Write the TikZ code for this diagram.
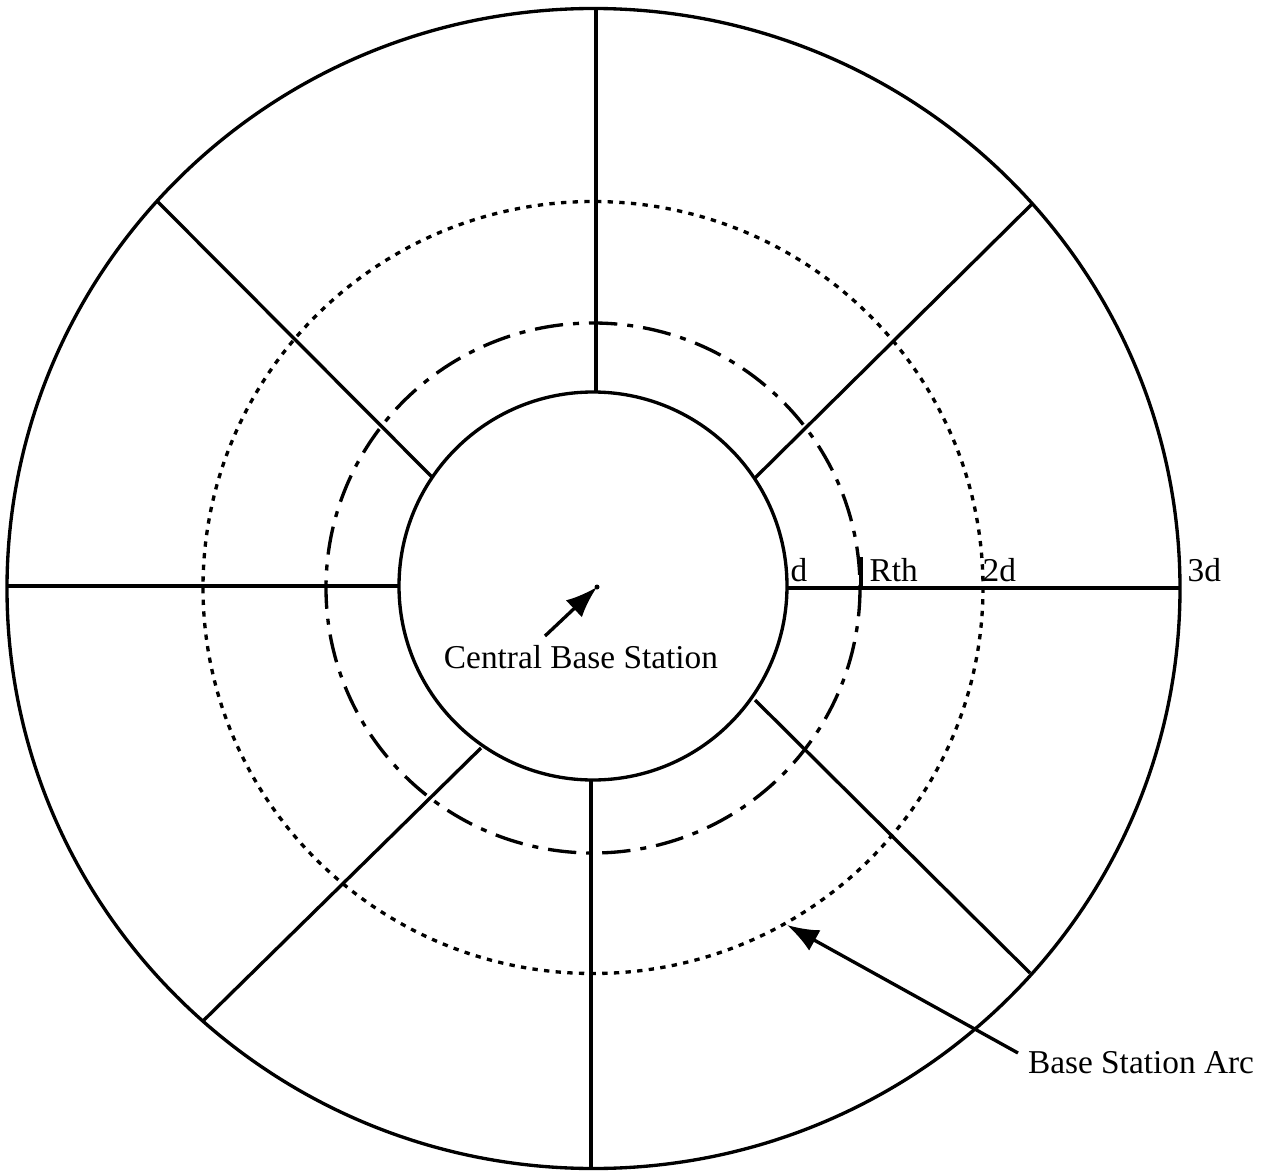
\documentclass[tikz,border=0pt]{standalone}
\usepackage{fontspec}
\setmainfont{Liberation Serif}
\usetikzlibrary{arrows.meta}
\begin{document}
\begin{tikzpicture}[x=0.3pt,y=-0.3pt,
  solidline/.style={line width=1pt},
  dottedring/.style={line width=1pt, dash pattern=on 1.6pt off 1.9pt},
  dashdotring/.style={line width=1pt, dash pattern=on 8.5pt off 3pt on 1.8pt off 3pt},
  pointer/.style={line width=1pt, -{Latex[length=9.5pt,width=7pt]}},
  lbl/.style={inner sep=0pt, font=\fontsize{10pt}{12pt}\selectfont}]
\useasboundingbox (0,0) rectangle (1271,1171);
% rings
\draw[solidline] (593.5,588.5) ellipse [x radius=586.5, y radius=580];
\draw[dottedring] (593,587.5) ellipse [x radius=390, y radius=386];
\draw[dashdotring] (593,588) ellipse [x radius=267, y radius=265];
\draw[solidline] (593,586) circle [radius=194];
% radial lines
\coordinate (ti) at (596,392);  \coordinate (to) at (596,9);
\coordinate (bi) at (591,780);  \coordinate (bo) at (591,1168);
\coordinate (li) at (399,586);  \coordinate (lo) at (7,586);
\coordinate (ri) at (787,588);  \coordinate (ro) at (1180,588);
\coordinate (uri) at (755,478); \coordinate (uro) at (1033,203);
\coordinate (uli) at (433,478); \coordinate (ulo) at (158,202);
\coordinate (lli) at (481,748); \coordinate (llo) at (202,1022);
\coordinate (lri) at (755,700); \coordinate (lro) at (1030,973);
\foreach \a/\b in {ti/to,bi/bo,li/lo,ri/ro,uri/uro,uli/ulo,lli/llo,lri/lro}
  \draw[solidline] (\a) -- (\b);
% Rth tick
\coordinate (rtht) at (861,557); \coordinate (rthb) at (861,590);
\draw[solidline] (rtht) -- (rthb);
% distance labels
\node[lbl, anchor=base west] (ld) at (790,581) {d};
\node[lbl, anchor=base west] (lrth) at (869,581) {Rth};
\node[lbl, anchor=base west] (l2d) at (982,581) {2d};
\node[lbl, anchor=base west] (l3d) at (1187,581) {3d};
% central base station
\coordinate (ctr) at (597,587);
\fill (ctr) circle [radius=2.5];
\node[lbl] (cbs) at (581,657) {Central Base Station};
\coordinate (cbstail) at (545,636);
\draw[pointer] (cbstail) -- (ctr);
% base station arc
\node[lbl] (bsa) at (1141,1063) {Base Station Arc};
\coordinate (bsatail) at (1018,1053);
\coordinate (bsahead) at (787,925);
\draw[pointer] (bsatail) -- (bsahead);
\end{tikzpicture}
\end{document}
